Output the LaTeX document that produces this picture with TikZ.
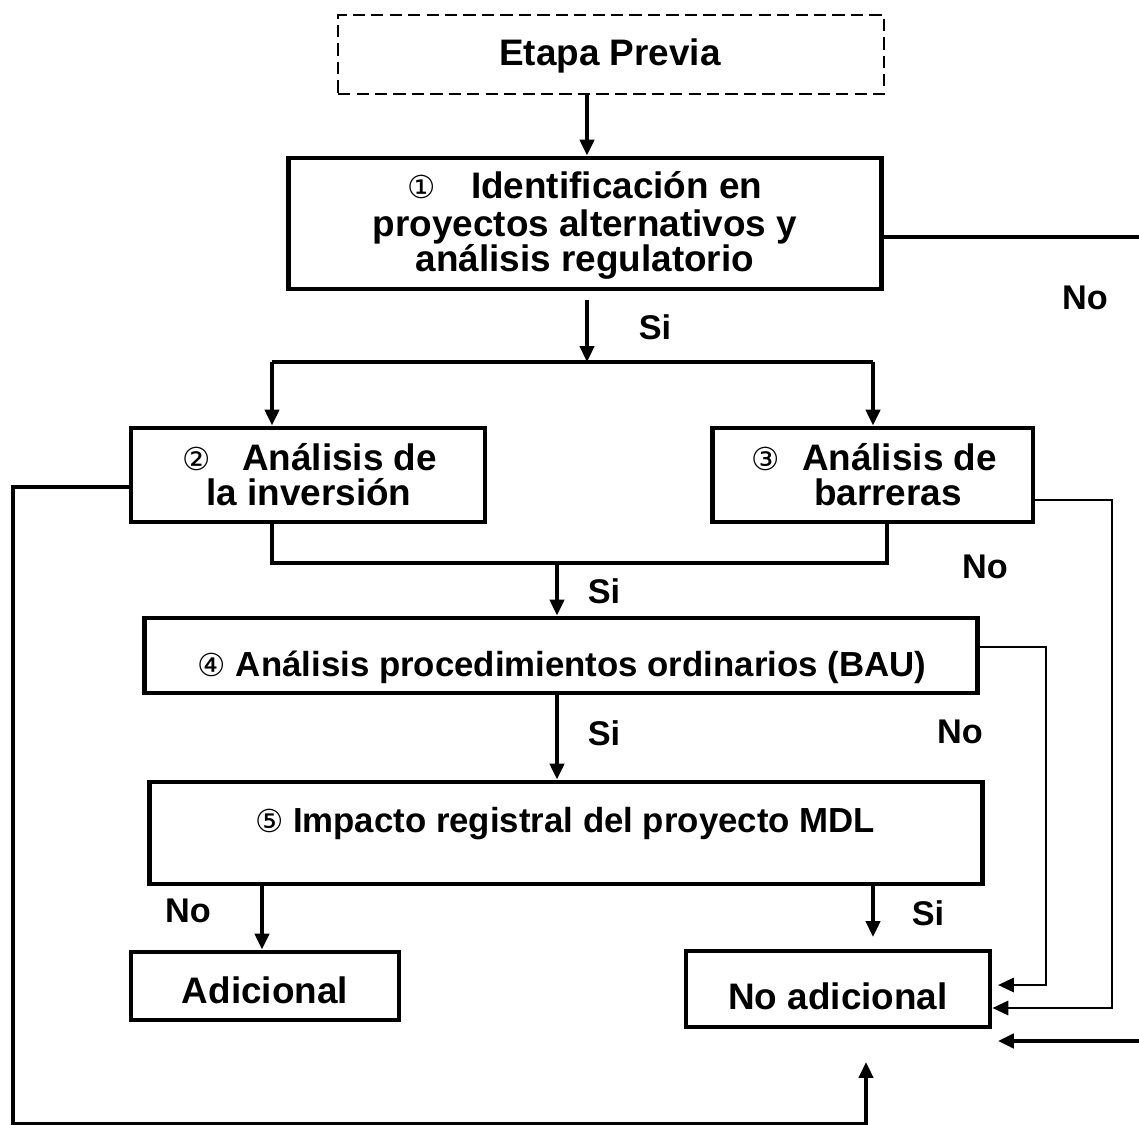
\documentclass[tikz,border=0pt]{standalone}
\usepackage{fontspec}
\setmainfont{Liberation Sans}
\newfontfamily\dv{DejaVu Sans}
\usetikzlibrary{arrows.meta}
\newcommand\circnum[1]{{\dv\mdseries\fontsize{18}{20}\selectfont #1}}
\begin{document}
\begin{tikzpicture}[x=0.02cm,y=-0.02cm,
  box/.style={draw, line width=2.8pt, inner sep=0pt},
  dbox/.style={draw, line width=1.1pt, dash pattern=on 7pt off 3.5pt, inner sep=0pt},
  txt/.style={font=\fontsize{21}{24}\selectfont\bfseries, inner sep=0pt, anchor=base},
  txs/.style={font=\fontsize{19.8}{24}\selectfont\bfseries, inner sep=0pt, anchor=base},
  lab/.style={font=\fontsize{19.5}{22}\selectfont\bfseries, inner sep=0pt, anchor=base},
  conn/.style={line width=2.1pt},
  thinconn/.style={line width=1.5pt},
  arr/.style={-{Triangle[length=9pt,width=8pt]}},
]
\useasboundingbox (0,0) rectangle (1139,1125);
\fill[white] (0,0) rectangle (1139,1125);
\clip (0,0) rectangle (1139,1125);

% boxes
\node[dbox, minimum width=10.92cm, minimum height=1.58cm] (b0) at (611,54.5) {};
\node[box, minimum width=11.88cm, minimum height=2.62cm] (b1) at (585,223.5) {};
\node[box, minimum width=7.08cm, minimum height=1.88cm] (b2) at (308,475) {};
\node[box, minimum width=6.42cm, minimum height=1.88cm] (b3) at (872.5,475) {};
\node[box, minimum width=16.68cm, minimum height=1.5cm] (b4) at (561,655.5) {};
\node[box, minimum width=16.68cm, minimum height=2.04cm] (b5) at (566,833) {};
\node[box, minimum width=5.36cm, minimum height=1.36cm] (b6) at (265,986) {};
\node[box, minimum width=6.08cm, minimum height=1.52cm] (b7) at (838,989) {};

% texts
\node[txt] (t0) at (610,66) {Etapa Previa};
\node[txt] (t1a) at (585,199) {\circnum{①}\hspace{0.7cm}Identificación en};
\node[txt] (t1b) at (585,236) {proyectos alternativos y};
\node[txt] (t1c) at (585,272) {análisis regulatorio};
\node[txt] (t2a) at (310,470) {\circnum{②}\hspace{0.62cm}Análisis de};
\node[txt] (t2b) at (309,505) {la inversión};
\node[txt] (t3a) at (874,470) {\circnum{③}\hspace{0.45cm}Análisis de};
\node[txt] (t3b) at (888,505) {barreras};
\node[txs] (t4) at (562,676) {\circnum{④} Análisis procedimientos ordinarios (BAU)};
\node[txs] (t5) at (565,832) {\circnum{⑤} Impacto registral del proyecto MDL};
\node[txt] (t6) at (265,1003) {Adicional};
\node[txt] (t7) at (838,1009) {No adicional};

% labels
\node[lab] (s1) at (655,339) {Si};
\node[lab] (s2) at (604,603) {Si};
\node[lab] (s3) at (604,745) {Si};
\node[lab] (s4) at (928,925) {Si};
\node[lab] (n1) at (1085,309) {No};
\node[lab] (n2) at (985,578) {No};
\node[lab] (n3) at (960,743) {No};
\node[lab] (n4) at (188,922) {No};

% coordinates
\coordinate (x587) at (587,0);
\coordinate (x262) at (262,0);
\coordinate (x873) at (873,0);
\coordinate (j1) at (587,362);
\coordinate (L1) at (272,362);
\coordinate (R1) at (873,362);
\coordinate (m2) at (272,563);
\coordinate (m3) at (887,563);
\coordinate (j2) at (557,563);
\coordinate (s5e) at (873,937);
\coordinate (r1) at (1165,237);
\coordinate (e1) at (998,1041);
\coordinate (r3) at (1112,500);
\coordinate (y1008) at (0,1008);
\coordinate (r4) at (1046,647);
\coordinate (e4) at (998,985);
\coordinate (l2) at (13,487);
\coordinate (lb) at (13,1124);
\coordinate (bb) at (866,1124);
\coordinate (e5) at (866,1062);

% connectors
\draw[conn,arr] (b0.south -| x587) -- (b1.north -| x587);
\draw[conn,arr,shorten <=0.18cm] (b1.south -| x587) -- (j1);
\draw[conn] (L1) -- (R1);
\draw[conn,arr] (L1) -- (b2.north -| L1);
\draw[conn,arr] (R1) -- (b3.north -| R1);
\draw[conn] (b2.south -| m2) -- (m2) -- (m3) -- (b3.south -| m3);
\draw[conn,arr] (j2) -- (b4.north -| j2);
\draw[conn,arr] (b4.south -| j2) -- (b5.north -| j2);
\draw[conn,arr] (b5.south -| x262) -- (b6.north -| x262);
\draw[conn,arr] (b5.south -| x873) -- (s5e);
\draw[line width=2.4pt,arr] (b1.east |- r1) -- (r1) |- (e1);
\draw[thinconn,arr] (b3.east |- r3) -- (r3) |- (b7.east |- y1008);
\draw[thinconn,arr] (b4.east |- r4) -- (r4) |- (e4);
\draw[conn,arr] (b2.west |- l2) -- (l2) -- (lb) -- (bb) -- (e5);
\end{tikzpicture}
\end{document}
